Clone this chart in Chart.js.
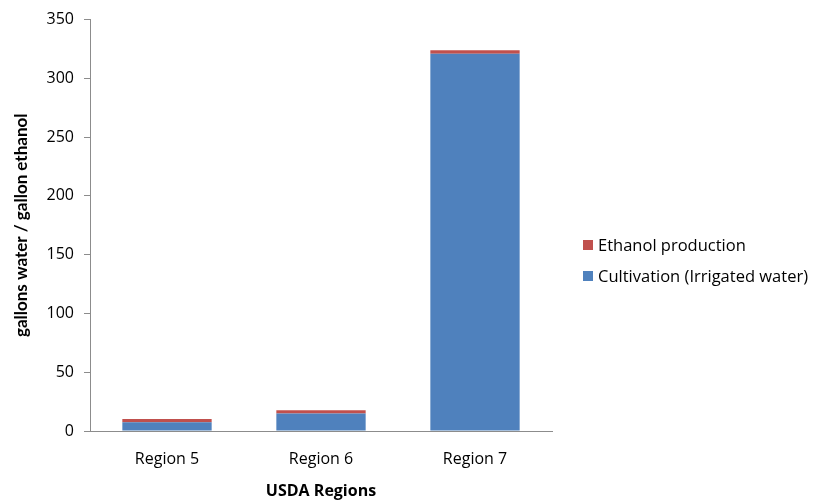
<!DOCTYPE html>
<html><head><meta charset="utf-8">
<script src="https://cdn.jsdelivr.net/npm/chart.js@4/dist/chart.umd.min.js"></script>
<style>html,body{margin:0;padding:0;background:#fff}canvas{display:block}</style>
</head><body>
<canvas id="c" width="814" height="501"></canvas>
<script>
const categories = ["Region 5", "Region 6", "Region 7"];
const cultivation = [7.5, 14.8, 321];
const ethanolProduction = [2.8, 2.9, 3];
const yTicks = [0, 50, 100, 150, 200, 250, 300, 350];
const seriesLabels = ["Cultivation (Irrigated water)", "Ethanol production"];

const FONT = "'Open Sans', Lato, sans-serif";
const axisColor = "#8c8c8c";

const legendPlugin = {
  id: "sideLegend",
  afterDraw(chart) {
    const ctx = chart.ctx;
    ctx.save();
    ctx.font = "16.5px " + FONT;
    ctx.textBaseline = "middle";
    const items = chart.data.datasets.slice().reverse();
    const x = 583, y0 = 245, gap = 31;
    items.forEach((ds, i) => {
      const y = y0 + i * gap;
      ctx.fillStyle = ds.backgroundColor;
      ctx.fillRect(x, y - 5, 10, 10);
      ctx.fillStyle = "#000";
      ctx.fillText(ds.label, x + 15, y + 1);
    });
    ctx.restore();
  }
};

new Chart(document.getElementById("c"), {
  type: "bar",
  data: {
    labels: categories,
    datasets: [
      { label: seriesLabels[0], data: cultivation, backgroundColor: "#4F81BD" },
      { label: seriesLabels[1], data: ethanolProduction, backgroundColor: "#C0504D" }
    ]
  },
  options: {
    responsive: false,
    animation: false,
    layout: { padding: { top: 19, right: 262, left: 0, bottom: 0 } },
    plugins: { legend: { display: false }, tooltip: { enabled: false } },
    datasets: { bar: { categoryPercentage: 1, barPercentage: 0.58 } },
    scales: {
      x: {
        stacked: true,
        grid: { display: true, drawOnChartArea: false, drawTicks: false, color: axisColor },
        border: { color: axisColor, width: 1 },
        ticks: { color: "#000", font: { family: FONT, size: 16 }, padding: 19 },
        title: { display: true, text: "USDA Regions", color: "#000", font: { family: FONT, size: 16, weight: "bold" }, padding: { top: 6, bottom: 0 } },
        afterFit: s => { s.height = 70; }
      },
      y: {
        stacked: true,
        min: 0, max: 350,
        afterBuildTicks: s => { s.ticks = yTicks.map(v => ({ value: v })); },
        grid: { drawOnChartArea: false, drawTicks: true, tickLength: 6, color: axisColor },
        border: { color: axisColor, width: 1 },
        ticks: { color: "#000", font: { family: FONT, size: 16 }, padding: 10 },
        title: { display: true, text: "gallons water / gallon ethanol", color: "#000", font: { family: "Lato", size: 17, weight: "bold" }, padding: { top: 11, bottom: 0 } },
        afterFit: s => { s.width = 90; }
      }
    }
  },
  plugins: [legendPlugin]
});
</script>
</body></html>
